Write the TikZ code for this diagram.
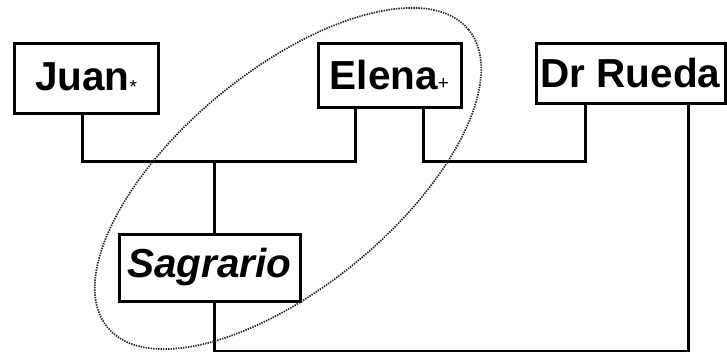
\documentclass[tikz,border=0pt]{standalone}
\usepackage{fontspec}
\setmainfont{Liberation Sans}
\begin{document}
\begin{tikzpicture}[x=1pt,y=-1pt,
  person/.style={draw=black,line width=3pt,fill=white,inner sep=0pt,
    font=\fontsize{40.5}{42}\selectfont\bfseries},
  link/.style={draw=black,line width=3pt},
  group/.style={draw=black!85,line width=1.7pt,dash pattern=on 1.4pt off 1.1pt}]
\newcommand{\tinymark}[1]{{\fontsize{19}{19}\selectfont\mdseries #1}}
\useasboundingbox (0,0) rectangle (727,351);
\clip (0,0) rectangle (727,351);
% people
\node[person,minimum width=144pt,minimum height=70pt] (juan) at (86,78) {Juan\tinymark{\raisebox{-3pt}{*}}};
\node[person,minimum width=143pt,minimum height=64pt] (elena) at (389.5,75) {Elena\tinymark{+}};
\node[person,minimum width=189pt,minimum height=60pt] (rueda) at (630.5,73) {Dr Rueda};
\node[person,minimum width=181pt,minimum height=67pt,font=\fontsize{40.5}{42}\selectfont\bfseries\itshape] (sagrario) at (209.5,267.5) {Sagrario};
% junction points of the family lines
\coordinate (m1) at (214,161);
\coordinate (m2) at (504,161);
\coordinate (m3) at (450,351);
% family lines
\draw[link] (juan.south -| 82,0) |- (m1) -| (elena.south -| 355,0);
\draw[link] (m1) -- (sagrario.north -| m1);
\draw[link] (elena.south -| 423,0) |- (m2) -| (rueda.south -| 585,0);
\draw[link] (sagrario.south -| m1) |- (m3) -| (rueda.south -| 688,0);
% grouping around mother and daughter
\draw[group,rotate around={39.5:(288,178.5)}] (288,178.5) ellipse [x radius=234, y radius=108];
\end{tikzpicture}
\end{document}
